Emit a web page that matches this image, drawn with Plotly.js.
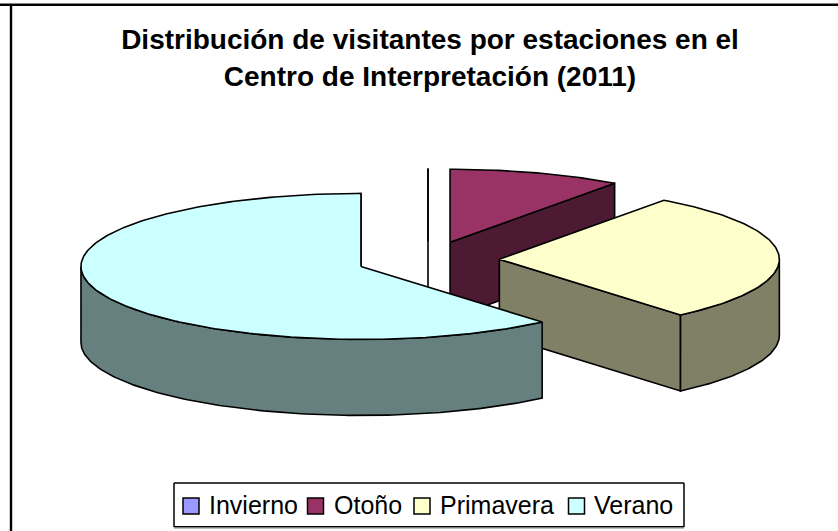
<!DOCTYPE html>
<html><head><meta charset="utf-8">
<script src="https://cdn.plot.ly/plotly-3.0.1.min.js"></script>
<style>html,body{margin:0;padding:0;background:#fff}#c{width:838px;height:531px}</style>
</head><body><div id="c"></div>
<script>
const categories = ['Invierno','Otoño','Primavera','Verano'];
const values = [0, 10, 28.8, 61.2];
const topColors = ['#9999FF','#993366','#FFFFCC','#CCFFFF'];
const sideColors = ['#4D4D80','#4D1A33','#808066','#668080'];
const legendSwatchPx = [191, 315.5, 422, 576.5];
const legendLabelPx = [207, 332, 438, 592];
const W = 838, H = 531;
const centerPx = [428, 260], radiusPx = 280, tiltPx = 73, depthPx = 76, explode = 0.255;
const depth = depthPx / tiltPx;
const total = values.reduce((a,b)=>a+b,0);
const rad = d => d*Math.PI/180;
const eps = 1e-9;
const xOf = px => (px-centerPx[0])/radiusPx;
const yOf = py => (centerPx[1]-py)/tiltPx;
const traces = [];
const rim = (c,t,z) => [c[0]+Math.sin(rad(t)), c[1]+Math.cos(rad(t))-z];
function poly(pts, fill){
  const p = pts.concat([pts[0]]);
  traces.push({x:p.map(q=>q[0]), y:p.map(q=>q[1]), mode:'lines', fill:'toself', fillcolor:fill,
    line:{color:'#000',width:1.6}, showlegend:false, hoverinfo:'skip'});
}
function arc(c,a,b,z){ const out=[]; const n=Math.max(1,Math.ceil(Math.abs(b-a)));
  for(let i=0;i<=n;i++) out.push(rim(c,a+(b-a)*i/n,z)); return out; }
let start = 0;
values.forEach((v,i)=>{
  const end = start + v/total*360, mid = (start+end)/2;
  const c = [explode*Math.sin(rad(mid)), explode*Math.cos(rad(mid))];
  const face = t => poly([c, rim(c,t,0), rim(c,t,depth), [c[0],c[1]-depth]], sideColors[i]);
  if (Math.sin(rad(start)) < -eps) face(start);
  if (Math.sin(rad(end)) > -eps) face(end);
  const a = Math.max(start,90), b = Math.min(end,270);
  if (b > a) poly(arc(c,a,b,0).concat(arc(c,b,a,depth)), sideColors[i]);
  poly([c].concat(arc(c,start,end,0)), topColors[i]);
  start = end;
});
categories.forEach((name,i)=>traces.push({x:[xOf(legendSwatchPx[i])],y:[yOf(506)],name:name,
  mode:'markers',
  marker:{symbol:'square',size:16,color:topColors[i],line:{color:'#000',width:1.5}},showlegend:false,hoverinfo:'skip'}));
const px = (x0,y0,x1,y1,color,width)=>({type:'line',xref:'x',yref:'y',x0:xOf(x0),y0:yOf(y0),x1:xOf(x1),y1:yOf(y1),line:{color:color,width:width}});
const layout = {
  width:W,height:H,margin:{l:0,r:0,t:0,b:0},paper_bgcolor:'#fff',plot_bgcolor:'#fff',
  font:{family:'Liberation Sans, Arial, sans-serif',color:'#000'},
  title:{text:'<b>Distribución de visitantes por estaciones en el<br>Centro de Interpretación (2011)</b>',
    font:{size:28,color:'#000',family:'Liberation Sans, Arial, sans-serif'},x:430/W,xanchor:'center',xref:'paper',y:0.907,yanchor:'top',yref:'container'},
  xaxis:{range:[xOf(0),xOf(W)],visible:false,fixedrange:true},
  yaxis:{range:[yOf(H),yOf(0)],visible:false,fixedrange:true},
  showlegend:false,
  annotations:categories.map((name,i)=>({text:name,x:xOf(legendLabelPx[i]),y:yOf(505),xref:'x',yref:'y',xanchor:'left',yanchor:'middle',
    showarrow:false,font:{size:25,color:'#000',family:'Liberation Sans, Arial, sans-serif'}})),
  shapes:[
    px(0,3.5,W,3.5,'#808080',1), px(0,5,W,5,'#000',2), px(11,4,11,H,'#000',2.4),
    px(174,483,684,483,'#000',1.5), px(174,483,174,527,'#000',1.5), px(684,483,684,527,'#000',1.5),
    px(174,527.8,684,527.8,'#808080',1.5), px(174,526.5,684,526.5,'#000',1.2)
  ]
};
Plotly.newPlot('c',traces,layout,{displayModeBar:false,staticPlot:true});
</script></body></html>
